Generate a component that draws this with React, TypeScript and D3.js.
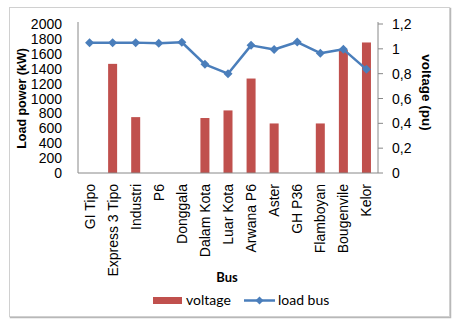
import React from "react";
import * as d3 from "d3";

const categories = ["GI Tipo", "Express 3 Tipo", "Industri", "P6", "Donggala", "Dalam Kota", "Luar Kota", "Arwana P6", "Aster", "GH P36", "Flamboyan", "Bougenvile", "Kelor"];
const loadPower = [0, 1465, 750, 0, 0, 738, 840, 1268, 665, 0, 665, 1650, 1752];
const voltage = [1.05, 1.05, 1.05, 1.045, 1.053, 0.875, 0.80, 1.028, 0.995, 1.055, 0.965, 0.996, 0.835];
const leftTicks = [0, 200, 400, 600, 800, 1000, 1200, 1400, 1600, 1800, 2000];
const rightTicks = [0, 0.2, 0.4, 0.6, 0.8, 1.0, 1.2];

const W = 460, H = 328;
const plot = { left: 78, right: 378, top: 24, bottom: 173 };
const RED = "#C0504D";
const BLUE = "#4A7EBB";
const AX = "#888888";
const TICKFONT = "'Liberation Sans', Arial, sans-serif";

export default function App() {
  const x = d3.scaleBand<string>().domain(categories).range([plot.left, plot.right]).paddingInner(0).paddingOuter(0);
  const yL = d3.scaleLinear().domain([0, 2000]).range([plot.bottom, plot.top]);
  const yR = d3.scaleLinear().domain([0, 1.2]).range([plot.bottom, plot.top]);
  const barW = 9;
  const line = d3.line<number>().x((_, i) => x(categories[i])! + x.bandwidth() / 2).y((d) => yR(d));
  const fmtR = (v: number) => (v === 0 ? "0" : v === 1 ? "1" : d3.format(".1f")(v).replace(".", ","));
  const diamond = (cx: number, cy: number, r: number) => `M${cx},${cy - r}L${cx + r},${cy}L${cx},${cy + r}L${cx - r},${cy}Z`;

  return (
    <svg width={W} height={H} style={{ position: "absolute", left: 0, top: 0 }}>
      <rect x={0} y={0} width={W} height={H} fill="#ffffff" />
      {/* outer frame with shadow */}
      <rect x={10.5} y={8.5} width={440} height={309} fill="none" stroke="#b8b8b8" strokeWidth={1.5} />
      <rect x={9.5} y={7.5} width={440} height={309} fill="#ffffff" stroke="#d0d0d0" strokeWidth={1} />

      {/* bars */}
      {loadPower.map((v, i) =>
        v > 0 ? (
          <rect key={i} x={x(categories[i])! + x.bandwidth() / 2 - barW / 2} y={yL(v)} width={barW} height={plot.bottom - yL(v)} fill={RED} />
        ) : null
      )}

      {/* axes */}
      <line x1={plot.left} x2={plot.left} y1={plot.top - 2} y2={plot.bottom} stroke={AX} strokeWidth={1} />
      <line x1={plot.right} x2={plot.right} y1={plot.top - 2} y2={plot.bottom} stroke={AX} strokeWidth={1} />
      <line x1={plot.left} x2={plot.right} y1={plot.bottom} y2={plot.bottom} stroke={AX} strokeWidth={1} />

      {/* left tick labels */}
      {leftTicks.map((t) => (
        <text key={t} x={62} y={yL(t)} dy="0.36em" textAnchor="end" fontFamily={TICKFONT} fontSize={14} fill="#000">{t}</text>
      ))}

      {/* right ticks */}
      {rightTicks.map((t) => (
        <g key={t}>
          <line x1={plot.right} x2={plot.right + 5} y1={yR(t)} y2={yR(t)} stroke={AX} />
          <text x={392} y={yR(t)} dy="0.36em" textAnchor="start" fontFamily={TICKFONT} fontSize={14} fill="#000">{fmtR(t)}</text>
        </g>
      ))}

      {/* category labels */}
      {categories.map((c) => {
        const cx = x(c)! + x.bandwidth() / 2 + 5;
        return (
          <text key={c} transform={`translate(${cx},${184}) rotate(-90)`} textAnchor="end" fontFamily={TICKFONT} fontSize={14} fill="#000">{c}</text>
        );
      })}

      {/* line */}
      <path d={line(voltage)!} fill="none" stroke={BLUE} strokeWidth={2.5} strokeLinejoin="round" />
      {voltage.map((v, i) => (
        <path key={i} d={diamond(x(categories[i])! + x.bandwidth() / 2, yR(v), 4.5)} fill={BLUE} />
      ))}

      {/* axis titles */}
      <text transform={`translate(26,${(plot.top + plot.bottom) / 2}) rotate(-90)`} textAnchor="middle" fontFamily={TICKFONT} fontWeight="bold" fontSize={12.5} fill="#000">Load power (kW)</text>
      <text transform={`translate(422,${(plot.top + plot.bottom) / 2 - 6}) rotate(90)`} textAnchor="middle" fontFamily={TICKFONT} fontWeight="bold" fontSize={13.5} fill="#000">voltage (pu)</text>
      <text x={227} y={282} textAnchor="middle" fontFamily="Lato, sans-serif" fontWeight="bold" fontSize={13} fill="#000">Bus</text>

      {/* legend */}
      <rect x={153} y={297} width={29} height={7} fill={RED} />
      <text x={186} y={304.5} fontFamily="Lato, sans-serif" fontSize={14} fill="#000">voltage</text>
      <line x1={244} x2={275} y1={300.5} y2={300.5} stroke={BLUE} strokeWidth={2.5} />
      <path d={diamond(259.5, 300.5, 4)} fill={BLUE} />
      <text x={278} y={304.5} fontFamily="Lato, sans-serif" fontSize={14} fill="#000">load bus</text>
    </svg>
  );
}
